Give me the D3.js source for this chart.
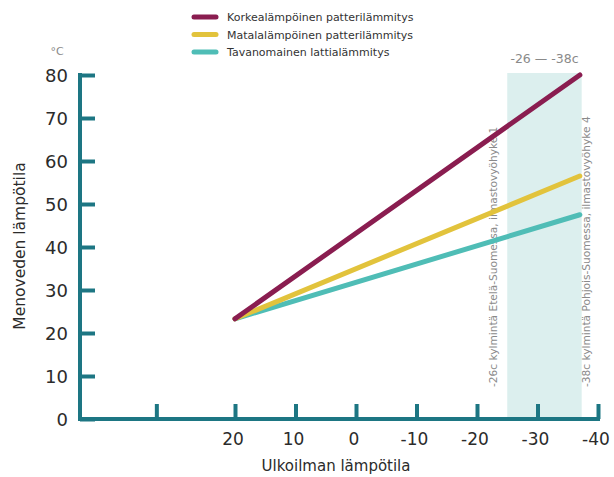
<!DOCTYPE html>
<html><head><meta charset="utf-8">
<script src="https://cdn.jsdelivr.net/npm/d3@7"></script>
<style>body{margin:0;background:#fff}</style>
</head><body>
<svg id="c" width="614" height="477"></svg>
<script>
const seriesNames = ["Korkealämpöinen patterilämmitys","Matalalämpöinen patterilämmitys","Tavanomainen lattialämmitys"];
const seriesColors = ["#8a1d50","#e2c33c","#4fbdb6"];
const outdoorTemps = [20, -37];
const highTemp = [23.3, 80];
const lowTemp = [23.3, 56.5];
const floorTemp = [23.3, 47.5];
const xTicks = [33, 20, 10, 0, -10, -20, -30, -40];
const xTickLabels = ["", "20", "10", "0", "-10", "-20", "-30", "-40"];
const yTicks = [0,10,20,30,40,50,60,70,80];
const band = [-25, -37.3];
const bandLabel = "-26 — -38c";
const bandNotes = ["-26c kylmintä Etelä-Suomessa, ilmastovyöhyke 1","-38c kylmintä Pohjois-Suomessa, ilmastovyöhyke 4"];

const svg = d3.select("#c");
const font = "'DejaVu Sans', sans-serif";
const axisColor = "#1d7683";
const x = d3.scaleLinear().domain([20,-40]).range([235,598]);
const y = d3.scaleLinear().domain([0,80]).range([419,75]);

// band
svg.append("rect").attr("x", x(band[0])).attr("y", 73)
  .attr("width", x(band[1]) - x(band[0])).attr("height", y(0) - 73)
  .attr("fill", "#dcefee");
svg.append("text").attr("x", (x(band[0])+x(band[1]))/2).attr("y", 63)
  .attr("text-anchor","middle").attr("font-family",font).attr("font-size",12.5)
  .attr("fill","#8a8a8a").text(bandLabel);
[[x(band[0])-10, bandNotes[0]],[x(band[1])+8, bandNotes[1]]].forEach(([px,t])=>{
  svg.append("text").attr("transform",`translate(${px},387) rotate(-90)`)
    .attr("font-family",font).attr("font-size",10.6).attr("fill","#8a8a8a").text(t);
});

// lines
const data = [highTemp, lowTemp, floorTemp];
const line = d3.line().x(d=>x(d[0])).y(d=>y(d[1]));
data.slice().reverse().forEach((s,ri)=>{
  const i = data.length-1-ri;
  svg.append("path").attr("d", line(outdoorTemps.map((t,k)=>[t,s[k]])))
    .attr("stroke", seriesColors[i]).attr("stroke-width",5).attr("fill","none")
    .attr("stroke-linecap","round");
});

// axes
const yAxis = d3.axisRight(y).tickValues(yTicks).tickSize(15).tickFormat("");
const ga = svg.append("g").attr("transform","translate(80,0)").call(yAxis);
ga.select(".domain").remove();
ga.selectAll(".tick line").attr("stroke",axisColor).attr("stroke-width",4);
svg.append("line").attr("x1",80).attr("x2",80).attr("y1",y(80)-2).attr("y2",y(0)+2)
  .attr("stroke",axisColor).attr("stroke-width",4);
yTicks.forEach(v=>{
  svg.append("text").attr("x",68).attr("y",y(v)+6.5).attr("text-anchor","end")
    .attr("font-family",font).attr("font-size",18).attr("fill","#2b2b2b").text(v);
});
const xAxis = d3.axisTop(x).tickValues(xTicks).tickSize(15).tickFormat("");
const gx = svg.append("g").attr("transform",`translate(0,${y(0)})`).call(xAxis);
gx.select(".domain").remove();
gx.selectAll(".tick line").attr("stroke",axisColor).attr("stroke-width",4);
svg.append("line").attr("x1",78).attr("x2",600).attr("y1",y(0)).attr("y2",y(0))
  .attr("stroke",axisColor).attr("stroke-width",4);
xTicks.forEach((v,i)=>{
  svg.append("text").attr("x",x(v)-2).attr("y",445).attr("text-anchor","middle")
    .attr("font-family",font).attr("font-size",17).attr("fill","#2b2b2b").text(xTickLabels[i]);
});

svg.append("text").attr("x",57).attr("y",55).attr("text-anchor","middle")
  .attr("font-family",font).attr("font-size",11).attr("fill","#8a8a8a").text("°C");
svg.append("text").attr("transform","translate(25,246) rotate(-90)").attr("text-anchor","middle")
  .attr("font-family",font).attr("font-size",15.5).attr("fill","#2b2b2b").text("Menoveden lämpötila");
svg.append("text").attr("x",336).attr("y",471).attr("text-anchor","middle")
  .attr("font-family",font).attr("font-size",15).attr("fill","#2b2b2b").text("Ulkoilman lämpötila");

// legend
seriesNames.forEach((n,i)=>{
  const ly = 17 + i*17.5;
  svg.append("line").attr("x1",194).attr("x2",216).attr("y1",ly).attr("y2",ly)
    .attr("stroke",seriesColors[i]).attr("stroke-width",5).attr("stroke-linecap","round");
  svg.append("text").attr("x",227).attr("y",ly+4).attr("font-family",font)
    .attr("font-size",11).attr("fill","#333").text(n);
});
</script>
</body></html>
